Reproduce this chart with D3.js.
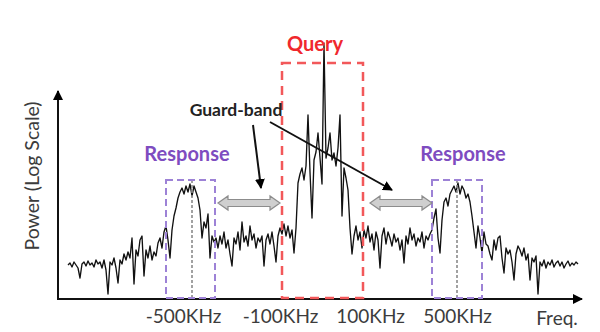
<!DOCTYPE html>
<html>
<head>
<meta charset="utf-8">
<script src="https://cdn.jsdelivr.net/npm/d3@7"></script>
<style>
  body { margin: 0; background: #fff; }
  svg { display: block; font-family: Lato, "Open Sans", sans-serif; }
</style>
</head>
<body>
<svg id="chart"></svg>
<script>
// spectrum samples (relative power, arbitrary units), left to right
var power = [
  33, 35, 31, 36, 33, 30, 20, 34, 36, 32, 37, 33, 35, 31, 38, 34, 36, 30, 38, 28,
  4, 36, 33, 40, 30, 15, 38, 34, 44, 38, 46, 40, 60, 14, 48, 42, 58, 62, 22, 48,
  40, 52, 38, 46, 42, 55, 60, 50, 66, 72, 58, 40, 68, 82, 90, 100, 106, 110, 104, 112,
  106, 114, 102, 112, 106, 100, 88, 60, 76, 70, 84, 40, 62, 56, 60, 50, 62, 54, 66, 50,
  58, 44, 32, 60, 54, 66, 48, 76, 56, 62, 52, 72, 58, 64, 50, 60, 56, 62, 32, 58,
  64, 54, 66, 52, 36, 62, 70, 64, 74, 62, 72, 60, 68, 45, 70, 115, 124, 130, 118, 132,
  183, 126, 80, 138, 146, 165, 140, 114, 255, 140, 150, 165, 138, 145, 132, 150, 183, 82, 130, 120,
  108, 70, 44, 62, 72, 58, 66, 50, 68, 60, 72, 56, 64, 48, 66, 58, 30, 62, 70, 54,
  66, 60, 52, 64, 56, 60, 48, 58, 35, 62, 54, 70, 58, 64, 52, 60, 56, 66, 50, 62,
  58, 64, 68, 80, 89, 60, 45, 78, 96, 100, 92, 104, 108, 112, 106, 115, 104, 112, 108, 100,
  104, 96, 82, 66, 50, 72, 60, 45, 66, 54, 52, 44, 38, 58, 48, 60, 62, 40, 25, 50,
  44, 48, 36, 18, 44, 52, 48, 42, 50, 38, 44, 18, 40, 36, 42, 4, 36, 32, 38, 30,
  36, 33, 38, 31, 35, 37, 32, 36, 30, 34, 37, 32, 35, 33, 36, 34
];

// frequency tick labels and the sample index they sit under
var tickLabels = ["-500KHz", "-100KHz", "100KHz", "500KHz"];
var tickAt = [57.5, 106, 151, 194.5];

// query band (sample index range) and its top level
var queryBand = [107, 147.5];
var queryTop = 235;

// response bands and their centre frequencies
var responseBands = [[49, 73.5], [182, 207]];
var responseCenters = [62, 194.5];
var responseTop = 118;

// guard-band gaps between the bands
var guardGaps = [[75, 106], [151, 182]];

var width = 600, height = 332;

var svg = d3.select("#chart")
    .attr("width", width)
    .attr("height", height);

var xScale = d3.scaleLinear()
    .domain([0, power.length - 1])
    .range([68, 578]);

var yScale = d3.scaleLinear()
    .domain([0, 210])
    .range([298, 88]);

var defs = svg.append("defs");
defs.append("marker")
    .attr("id", "tip")
    .attr("viewBox", "0 0 10 10")
    .attr("refX", 9).attr("refY", 5)
    .attr("markerWidth", 5).attr("markerHeight", 5)
    .attr("markerUnits", "strokeWidth")
    .attr("orient", "auto")
    .append("path")
    .attr("d", "M0,0 L10,5 L0,10 z")
    .attr("fill", "#000");

// spectrum line
var line = d3.line()
    .x(function(d, i) { return xScale(i); })
    .y(function(d) { return yScale(d); });

svg.append("path")
    .datum(power)
    .attr("d", line)
    .attr("fill", "none")
    .attr("stroke", "#111")
    .attr("stroke-width", 1.35)
    .attr("stroke-linejoin", "round");

// axes (plain arrows, no numeric ticks)
var x0 = xScale(0) - 10, y0 = yScale(0);
svg.append("line")
    .attr("x1", x0).attr("y1", y0 + 1)
    .attr("x2", x0).attr("y2", yScale(207))
    .attr("stroke", "#111").attr("stroke-width", 2)
    .attr("marker-end", "url(#tip)");
svg.append("line")
    .attr("x1", x0 - 1).attr("y1", y0 + 1)
    .attr("x2", xScale(power.length - 1) + 4).attr("y2", y0 + 1)
    .attr("stroke", "#111").attr("stroke-width", 2)
    .attr("marker-end", "url(#tip)");

var xAxis = d3.axisBottom(xScale)
    .tickValues(tickAt)
    .tickFormat(function(d, i) { return tickLabels[i]; })
    .tickSize(0)
    .tickPadding(12);

var gx = svg.append("g")
    .attr("transform", "translate(0," + y0 + ")")
    .call(xAxis);
gx.select(".domain").remove();
gx.selectAll("text")
    .attr("font-family", "Lato, sans-serif")
    .attr("font-size", 19)
    .attr("fill", "#3c3c3c");

svg.append("text")
    .attr("x", xScale(244.5))
    .attr("y", 325)
    .attr("text-anchor", "middle")
    .attr("font-size", 19)
    .attr("fill", "#3c3c3c")
    .text("Freq.");

svg.append("text")
    .attr("transform", "translate(39," + 176 + ") rotate(-90)")
    .attr("text-anchor", "middle")
    .attr("font-size", 19.5)
    .attr("fill", "#3c3c3c")
    .text("Power (Log Scale)");

// response centre lines
svg.selectAll(".center")
    .data(responseCenters)
    .enter()
    .append("line")
    .attr("x1", function(d) { return xScale(d); })
    .attr("x2", function(d) { return xScale(d); })
    .attr("y1", yScale(responseTop))
    .attr("y2", y0)
    .attr("stroke", "#8a8a8a")
    .attr("stroke-width", 1.6)
    .attr("stroke-dasharray", "3,2");

// response boxes
svg.selectAll(".resp")
    .data(responseBands)
    .enter()
    .append("rect")
    .attr("x", function(d) { return xScale(d[0]); })
    .attr("y", yScale(responseTop))
    .attr("width", function(d) { return xScale(d[1]) - xScale(d[0]); })
    .attr("height", y0 - yScale(responseTop))
    .attr("fill", "none")
    .attr("stroke", "#9d82d6")
    .attr("stroke-width", 2)
    .attr("stroke-dasharray", "7,4");

// query box
svg.append("rect")
    .attr("x", xScale(queryBand[0]))
    .attr("y", yScale(queryTop))
    .attr("width", xScale(queryBand[1]) - xScale(queryBand[0]))
    .attr("height", y0 - yScale(queryTop))
    .attr("fill", "none")
    .attr("stroke", "#f2585a")
    .attr("stroke-width", 2.5)
    .attr("stroke-dasharray", "9,6");

// double-headed guard arrows
function doubleArrow(a, b, cy) {
    var h = 10, hw = 7, sw = 3.5;
    return "M" + a + "," + cy +
        " L" + (a + h) + "," + (cy - hw) +
        " L" + (a + h) + "," + (cy - sw) +
        " L" + (b - h) + "," + (cy - sw) +
        " L" + (b - h) + "," + (cy - hw) +
        " L" + b + "," + cy +
        " L" + (b - h) + "," + (cy + hw) +
        " L" + (b - h) + "," + (cy + sw) +
        " L" + (a + h) + "," + (cy + sw) +
        " L" + (a + h) + "," + (cy + hw) + " Z";
}
svg.selectAll(".gap")
    .data(guardGaps)
    .enter()
    .append("path")
    .attr("d", function(d) { return doubleArrow(xScale(d[0]), xScale(d[1]), yScale(95)); })
    .attr("fill", "#cfcfcf")
    .attr("stroke", "#8c8c8c")
    .attr("stroke-width", 1.2);

// guard-band pointer arrows
var pointers = [
    [[92.5, 173], [96.5, 110]],
    [[101, 176], [162, 108]]
];
svg.selectAll(".ptr")
    .data(pointers)
    .enter()
    .append("line")
    .attr("x1", function(d) { return xScale(d[0][0]); })
    .attr("y1", function(d) { return yScale(d[0][1]); })
    .attr("x2", function(d) { return xScale(d[1][0]); })
    .attr("y2", function(d) { return yScale(d[1][1]); })
    .attr("stroke", "#111")
    .attr("stroke-width", 2)
    .attr("marker-end", "url(#tip)");

// labels
svg.append("text")
    .attr("x", xScale(84)).attr("y", yScale(182))
    .attr("text-anchor", "middle")
    .attr("font-size", 17.5).attr("font-weight", "bold")
    .attr("fill", "#222")
    .text("Guard-band");

svg.append("text")
    .attr("x", xScale(123.5)).attr("y", yScale(247))
    .attr("text-anchor", "middle")
    .attr("font-size", 20).attr("font-weight", "bold")
    .attr("fill", "#f0282d")
    .text("Query");

svg.selectAll(".rlabel")
    .data([59.5, 197.5])
    .enter()
    .append("text")
    .attr("x", function(d) { return xScale(d); })
    .attr("y", yScale(137))
    .attr("text-anchor", "middle")
    .attr("font-size", 20).attr("font-weight", "bold")
    .attr("fill", "#7e4cc0")
    .text("Response");
</script>
</body>
</html>
